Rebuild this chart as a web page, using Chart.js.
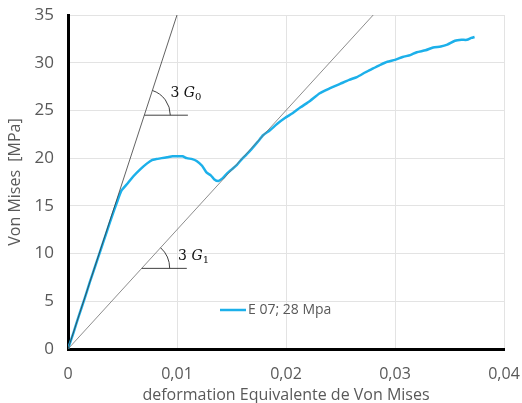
<!DOCTYPE html>
<html>
<head>
<meta charset="utf-8">
<script src="https://cdn.jsdelivr.net/npm/chart.js@4.4.1/dist/chart.umd.min.js"></script>
<style>
  html, body { margin: 0; padding: 0; background: #fff; }
  #wrap { width: 522px; height: 403px; }
</style>
</head>
<body>
<div id="wrap"><canvas id="chart"></canvas></div>
<script>
//DATA
const strain = [0, 0.0005, 0.001, 0.0015, 0.002, 0.0025, 0.003, 0.0035, 0.004, 0.0045, 0.0049, 0.0055, 0.006, 0.0066, 0.0072, 0.0077, 0.0081, 0.0086, 0.0091, 0.0096, 0.01, 0.0105, 0.0109, 0.0114, 0.0118, 0.0123, 0.0127, 0.0131, 0.0134, 0.0138, 0.0142, 0.0146, 0.015, 0.0155, 0.0158, 0.0163, 0.0168, 0.0174, 0.0179, 0.0185, 0.0192, 0.0199, 0.0206, 0.0213, 0.0222, 0.0231, 0.024, 0.025, 0.0258, 0.0265, 0.0273, 0.028, 0.0287, 0.0293, 0.03, 0.0307, 0.0314, 0.032, 0.0328, 0.0335, 0.0342, 0.0348, 0.0355, 0.0361, 0.0366, 0.037, 0.0373];
const stress = [0, 1.7, 3.5, 5.2, 7.0, 8.7, 10.4, 12.1, 13.8, 15.4, 16.6, 17.4, 18.1, 18.8, 19.4, 19.8, 19.9, 20.0, 20.1, 20.2, 20.2, 20.2, 20.0, 19.9, 19.7, 19.2, 18.5, 18.2, 17.8, 17.6, 17.9, 18.4, 18.8, 19.3, 19.7, 20.3, 20.9, 21.7, 22.4, 22.9, 23.6, 24.2, 24.7, 25.3, 26.0, 26.8, 27.3, 27.8, 28.2, 28.5, 29.0, 29.4, 29.8, 30.1, 30.3, 30.6, 30.8, 31.1, 31.3, 31.6, 31.7, 31.9, 32.3, 32.4, 32.4, 32.6, 32.7];
// slope lines 3G0 and 3G1
const lineG0 = [{ x: 0, y: 0 }, { x: 0.01, y: 35 }];
const lineG1 = [{ x: 0, y: 0 }, { x: 0.028, y: 35 }];
const xTicks = [0, 0.01, 0.02, 0.03, 0.04];
const yTicks = [0, 5, 10, 15, 20, 25, 30, 35];
const seriesName = "E 07; 28 Mpa";

const curve = strain.map((s, i) => ({ x: s, y: stress[i] }));
const fmt = (v) => String(v).replace(".", ",");

//annotation + legend plugin
const marks = {
  id: "marks",
  afterDatasetsDraw(chart) {
    const { ctx, scales: { x, y }, chartArea } = chart;
    const angleMark = (line, yVal, xEnd, r, sub, lx, ly) => {
      const p0 = line[0], p1 = line[1];
      const slope = (p1.y - p0.y) / (p1.x - p0.x);
      const xs = yVal / slope;
      const cx = x.getPixelForValue(xs), cy = y.getPixelForValue(yVal);
      const ang = Math.atan2(
        y.getPixelForValue(p1.y) - y.getPixelForValue(p0.y),
        x.getPixelForValue(p1.x) - x.getPixelForValue(p0.x)
      );
      ctx.save();
      ctx.strokeStyle = "#404040";
      ctx.lineWidth = 1;
      ctx.beginPath();
      ctx.moveTo(cx, cy);
      ctx.lineTo(x.getPixelForValue(xEnd), cy);
      ctx.stroke();
      ctx.beginPath();
      ctx.arc(cx, cy, r, ang, 0);
      ctx.stroke();
      // label
      const tx = x.getPixelForValue(lx), ty = y.getPixelForValue(ly);
      ctx.fillStyle = "#111";
      ctx.textBaseline = "middle";
      ctx.font = "14px 'DejaVu Serif'";
      ctx.fillText("3 ", tx, ty);
      let w = ctx.measureText("3 ").width;
      ctx.font = "italic 14px 'DejaVu Serif'";
      ctx.fillText("G", tx + w, ty);
      w += ctx.measureText("G").width;
      ctx.font = "10px 'DejaVu Serif'";
      ctx.fillText(sub, tx + w, ty + 4);
      ctx.restore();
    };
    angleMark(lineG0, 24.5, 0.011, 26, "0", 0.0094, 26.8);
    angleMark(lineG1, 8.45, 0.0109, 28, "1", 0.0101, 9.7);

    // legend
    ctx.save();
    const ly = chartArea.top + 295;
    ctx.strokeStyle = "#1cb0ea";
    ctx.lineWidth = 2.5;
    ctx.beginPath();
    ctx.moveTo(220, ly);
    ctx.lineTo(246, ly);
    ctx.stroke();
    ctx.fillStyle = "#595959";
    ctx.font = "14px 'Open Sans'";
    ctx.textBaseline = "middle";
    ctx.fillText(seriesName, 248, ly);
    ctx.restore();
  },
};

new Chart(document.getElementById("chart"), {
  type: "scatter",
  data: {
    datasets: [
      {
        label: "3G0",
        data: lineG0,
        showLine: true,
        borderColor: "#3a3a3a",
        borderWidth: 0.8,
        pointRadius: 0,
      },
      {
        label: "3G1",
        data: lineG1,
        showLine: true,
        borderColor: "#707070",
        borderWidth: 0.8,
        pointRadius: 0,
      },
      {
        label: seriesName,
        data: curve,
        showLine: true,
        borderColor: "#1cb0ea",
        borderWidth: 2.5,
        pointRadius: 0,
        tension: 0.2,
      },
    ],
  },
  options: {
    responsive: true,
    maintainAspectRatio: false,
    animation: false,
    layout: { padding: { top: 15, right: 18, left: 0, bottom: 0 } },
    plugins: { legend: { display: false }, tooltip: { enabled: false } },
    scales: {
      x: {
        type: "linear",
        min: 0,
        max: 0.04,
        afterBuildTicks: (s) => { s.ticks = xTicks.map((v) => ({ value: v })); },
        afterFit: (s) => { s.height = 54; s.paddingLeft = 0; s.paddingRight = 0; },
        ticks: {
          callback: (v) => fmt(v),
          color: "#595959",
          font: { family: "Open Sans", size: 16 },
          padding: 16,
        },
        grid: { color: "#e3e3e3", drawTicks: false },
        border: { color: "#000", width: 3 },
        title: {
          display: true,
          text: "deformation Equivalente de Von Mises",
          color: "#595959",
          font: { family: "Open Sans", size: 16, lineHeight: 0.9 },
          padding: { top: 0, bottom: 0 },
        },
      },
      y: {
        type: "linear",
        min: 0,
        max: 35,
        afterBuildTicks: (s) => { s.ticks = yTicks.map((v) => ({ value: v })); },
        afterFit: (s) => { s.width = 68; s.paddingTop = 0; s.paddingBottom = 0; },
        ticks: {
          color: "#595959",
          font: { family: "Open Sans", size: 17 },
          padding: 14,
        },
        grid: { color: "#e3e3e3", drawTicks: false },
        border: { color: "#000", width: 3 },
        title: {
          display: true,
          text: "Von Mises  [MPa]",
          color: "#595959",
          font: { family: "Open Sans", size: 16 },
          padding: { top: 6, bottom: 0 },
        },
      },
    },
  },
  plugins: [marks],
});
</script>
</body>
</html>
